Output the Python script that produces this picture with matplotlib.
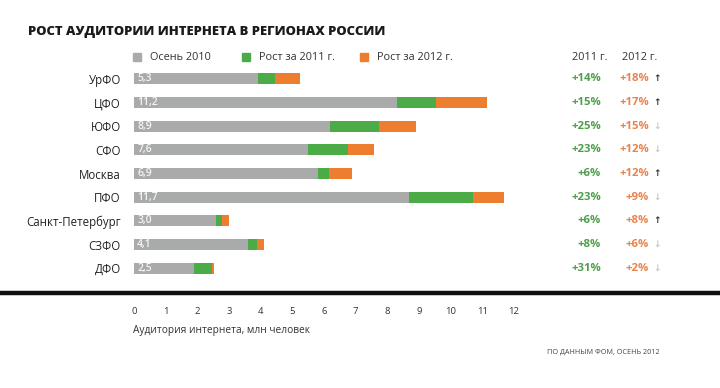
import matplotlib
matplotlib.use('Agg')
import matplotlib.pyplot as plt
from matplotlib.patches import Rectangle
from matplotlib.lines import Line2D

plt.rcParams['font.family'] = ['Open Sans', 'DejaVu Sans']

# ── Data ──────────────────────────────────────────────────────────────────
regions = ['УрФО', 'ЦФО', 'ЮФО', 'СФО', 'Москва', 'ПФО',
           'Санкт-Петербург', 'СЗФО', 'ДФО']
autumn_2010 = [3.9, 8.3, 6.2, 5.5, 5.8, 8.7, 2.6, 3.6, 1.9]
growth_2011 = [0.55, 1.25, 1.55, 1.27, 0.35, 2.0, 0.17, 0.29, 0.57]
growth_2012 = [0.8, 1.6, 1.15, 0.81, 0.74, 0.97, 0.22, 0.23, 0.05]
total_labels = ['5,3', '11,2', '8,9', '7,6', '6,9', '11,7', '3,0', '4,1', '2,5']
pct_2011 = ['+14%', '+15%', '+25%', '+23%', '+6%', '+23%', '+6%', '+8%', '+31%']
pct_2012 = ['+18%', '+17%', '+15%', '+12%', '+12%', '+9%', '+8%', '+6%', '+2%']
trend_up = [True, True, False, False, True, False, True, False, False]
x_ticks = list(range(0, 13))

GRAY = '#a9abaa'
GREEN = '#4aab47'
ORANGE = '#ed7d2f'
W, H = 720, 388

fig = plt.figure(figsize=(W / 100, H / 100), dpi=100)
fig.patch.set_facecolor('white')


def fx(px):
    return px / W


def fy(py):
    return 1 - py / H


# axes: x 0..12 spans px 134..514, rows span px 67..280
ax = fig.add_axes([fx(134), fy(280), (514 - 134) / W, (280 - 67) / H])
ypos = list(range(len(regions)))
left2 = autumn_2010
left3 = [a + b for a, b in zip(autumn_2010, growth_2011)]
ax.barh(ypos, autumn_2010, height=0.47, color=GRAY)
ax.barh(ypos, growth_2011, left=left2, height=0.47, color=GREEN)
ax.barh(ypos, growth_2012, left=left3, height=0.47, color=ORANGE)
ax.set_xlim(0, 12)
ax.set_ylim(len(regions) - 0.5, -0.5)
for s in ax.spines.values():
    s.set_visible(False)

ax.set_yticks(ypos)
ax.set_yticklabels(regions, fontsize=8.3, color='#222222')
ax.tick_params(axis='y', length=0, pad=9.5)
ax.set_xticks(x_ticks)
ax.set_xticklabels([str(t) for t in x_ticks], fontsize=6.8, color='#333333')
ax.tick_params(axis='x', length=0, pad=19.5)

for i, lab in enumerate(total_labels):
    ax.text(0.1, i, lab, va='center', ha='left', fontsize=7.5,
            color='#f4f4f4', fontweight='semibold')

# percentage columns (axes-x, data-y)
tr = ax.get_yaxis_transform()
ax_x = lambda px: (px - 134) / (514 - 134)
for i in ypos:
    ax.text(ax_x(601), i, pct_2011[i], transform=tr, ha='right', va='center',
            fontsize=8.2, color='#4e9e4a', fontweight='bold', clip_on=False)
    ax.text(ax_x(649), i, pct_2012[i], transform=tr, ha='right', va='center',
            fontsize=8.2, color='#e8834e', fontweight='bold', clip_on=False)
    ax.text(ax_x(653), i, '↑' if trend_up[i] else '↓', transform=tr,
            ha='left', va='center', fontsize=6.5, family='DejaVu Sans',
            fontweight='bold',
            color='#333333' if trend_up[i] else '#c8c8c8', clip_on=False)

# ── Header / legend ───────────────────────────────────────────────────────
fig.text(fx(28), fy(32), 'РОСТ АУДИТОРИИ ИНТЕРНЕТА В РЕГИОНАХ РОССИИ',
         ha='left', va='center', fontsize=9.35, fontweight='heavy',
         color='#1a1a1a')

legend_items = [(133, GRAY, 'Осень 2010'),
                (242, GREEN, 'Рост за 2011 г.'),
                (360, ORANGE, 'Рост за 2012 г.')]
for px, col, lab in legend_items:
    fig.add_artist(Rectangle((fx(px), fy(61)), 8 / W, 8 / H,
                             transform=fig.transFigure, color=col))
    fig.text(fx(px + 17), fy(57.5), lab, ha='left', va='center',
             fontsize=7.8, color='#333333')

fig.text(fx(590), fy(58), '2011 г.', ha='center', va='center',
         fontsize=7.8, color='#333333')
fig.text(fx(640), fy(58), '2012 г.', ha='center', va='center',
         fontsize=7.8, color='#333333')

# thick rule
fig.add_artist(Line2D([0, 1], [fy(293), fy(293)], transform=fig.transFigure,
                      color='#111111', linewidth=3.2))

fig.text(fx(133), fy(331), 'Аудитория интернета, млн человек',
         ha='left', va='center', fontsize=7.3, color='#333333')
fig.text(fx(660), fy(352), 'ПО ДАННЫМ ФОМ, ОСЕНЬ 2012',
         ha='right', va='center', fontsize=5.2, color='#444444')

fig.savefig('out.png', dpi=100)
